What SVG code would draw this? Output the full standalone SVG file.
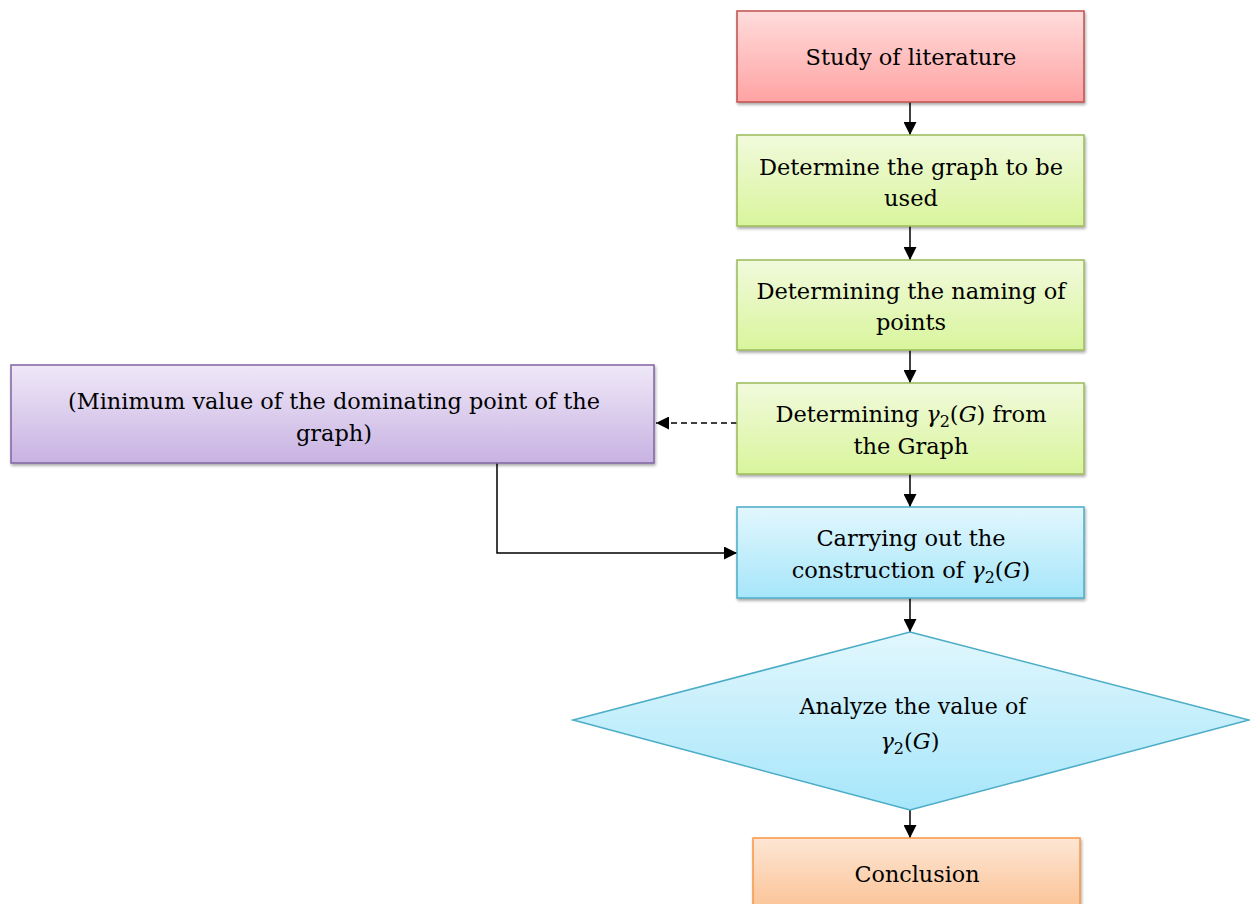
<svg xmlns="http://www.w3.org/2000/svg" width="1250" height="904" viewBox="0 0 1250 904">
<style>
text{font-family:"DejaVu Serif","Liberation Serif",serif;font-size:22.5px;fill:#000;text-anchor:middle}
.m{font-style:italic}
.s{font-size:16px}
.c{stroke:#000;stroke-width:1.5;fill:none}
</style>
<defs>
<linearGradient id="gr" x1="0" y1="0" x2="0" y2="1"><stop offset="0" stop-color="#ffdcdc"/><stop offset="1" stop-color="#ffa3a3"/></linearGradient>
<linearGradient id="gg" x1="0" y1="0" x2="0" y2="1"><stop offset="0" stop-color="#f1fadc"/><stop offset="1" stop-color="#d9f59c"/></linearGradient>
<linearGradient id="gp" x1="0" y1="0" x2="0" y2="1"><stop offset="0" stop-color="#efe8f8"/><stop offset="1" stop-color="#c8b2e2"/></linearGradient>
<linearGradient id="gb" x1="0" y1="0" x2="0" y2="1"><stop offset="0" stop-color="#e2f7fd"/><stop offset="1" stop-color="#a6e6fa"/></linearGradient>
<linearGradient id="go" x1="0" y1="0" x2="0" y2="1"><stop offset="0" stop-color="#fde6d4"/><stop offset="1" stop-color="#fbbf8f"/></linearGradient>
<filter id="sh" x="-5%" y="-10%" width="110%" height="130%"><feDropShadow dx="1" dy="2" stdDeviation="1.5" flood-color="#000" flood-opacity="0.35"/></filter>
<marker id="ar2" viewBox="0 0 10 10" refX="10" refY="5" markerWidth="13" markerHeight="13" markerUnits="userSpaceOnUse" orient="auto"><path d="M0,0L10,5L0,10z" fill="#000"/></marker>
</defs>
<g id="connectors">
<path class="c" d="M910,102V135" marker-end="url(#ar2)"/>
<path class="c" d="M910,226V260" marker-end="url(#ar2)"/>
<path class="c" d="M910,350V383" marker-end="url(#ar2)"/>
<path class="c" d="M910,474V507" marker-end="url(#ar2)"/>
<path class="c" d="M910,598V632" marker-end="url(#ar2)"/>
<path class="c" d="M910,810V838" marker-end="url(#ar2)"/>
<path class="c" d="M737,423H656" stroke-dasharray="6,4" marker-end="url(#ar2)"/>
<path class="c" d="M497,463V553H737" marker-end="url(#ar2)"/>
</g>
<g id="n1"><rect x="737" y="11" width="347" height="91" fill="url(#gr)" stroke="#c0504d" stroke-width="1.5" filter="url(#sh)"/><text x="911" y="65">Study of literature</text></g>
<g id="n2"><rect x="737" y="135" width="347" height="91" fill="url(#gg)" stroke="#9bbb59" stroke-width="1.5" filter="url(#sh)"/><text x="911" y="175">Determine the graph to be</text><text x="911" y="206">used</text></g>
<g id="n3"><rect x="737" y="260" width="347" height="90" fill="url(#gg)" stroke="#9bbb59" stroke-width="1.5" filter="url(#sh)"/><text x="911" y="299">Determining the naming of</text><text x="911" y="330">points</text></g>
<g id="n4"><rect x="737" y="383" width="347" height="91" fill="url(#gg)" stroke="#9bbb59" stroke-width="1.5" filter="url(#sh)"/><text x="911" y="422">Determining <tspan class="m">γ</tspan><tspan class="s" dy="5">2</tspan><tspan dy="-5">(</tspan><tspan class="m">G</tspan>) from</text><text x="911" y="454">the Graph</text></g>
<g id="n5"><rect x="11" y="365" width="643" height="98" fill="url(#gp)" stroke="#8064a2" stroke-width="1.5" filter="url(#sh)"/><text x="334" y="409" textLength="532" lengthAdjust="spacingAndGlyphs">(Minimum value of the dominating point of the</text><text x="334" y="441">graph)</text></g>
<g id="n6"><rect x="737" y="507" width="347" height="91" fill="url(#gb)" stroke="#4bacc6" stroke-width="1.5" filter="url(#sh)"/><text x="911" y="546">Carrying out the</text><text x="911" y="578">construction of <tspan class="m">γ</tspan><tspan class="s" dy="5">2</tspan><tspan dy="-5">(</tspan><tspan class="m">G</tspan>)</text></g>
<g id="n7"><path d="M910,632L1249,720L910,810L573,720Z" fill="url(#gb)" stroke="#4bacc6" stroke-width="1.5"/><text x="913" y="714" textLength="227" lengthAdjust="spacingAndGlyphs">Analyze the value of</text><text x="910" y="749"><tspan class="m">γ</tspan><tspan class="s" dy="5">2</tspan><tspan dy="-5">(</tspan><tspan class="m">G</tspan>)</text></g>
<g id="n8"><rect x="753" y="838" width="327" height="80" fill="url(#go)" stroke="#f79646" stroke-width="1.5" filter="url(#sh)"/><text x="917" y="882" textLength="125" lengthAdjust="spacingAndGlyphs">Conclusion</text></g>
</svg>
